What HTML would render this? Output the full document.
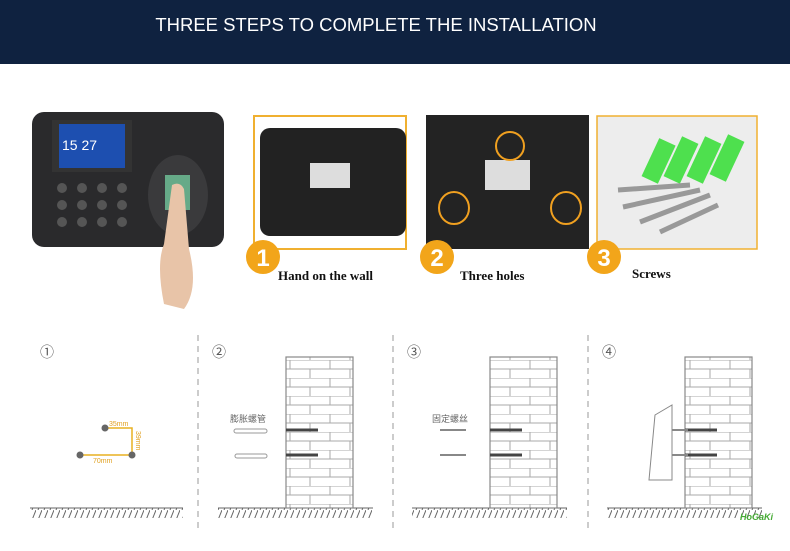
<!DOCTYPE html>
<html><head><meta charset="utf-8"><style>
body{margin:0;width:790px;height:546px;overflow:hidden;background:#fff;font-family:"Liberation Sans","Noto Sans CJK SC",sans-serif}
</style></head><body>
<svg width="790" height="546" xmlns="http://www.w3.org/2000/svg">
<defs>
<pattern id="brick" width="40" height="18" patternUnits="userSpaceOnUse">
<rect width="40" height="18" fill="#fff"/>
<path d="M0 0H40M0 9H40M10 0V9M30 9V18" stroke="#aaa" stroke-width="1"/>
</pattern>
<pattern id="hatch" width="6" height="10" patternUnits="userSpaceOnUse">
<path d="M6 0L2 10" stroke="#666" stroke-width="1"/>
</pattern>
</defs>
<rect width="790" height="64" fill="#0f2240"/>
<text x="376" y="31" fill="#fff" font-size="18.5" text-anchor="middle">THREE STEPS TO COMPLETE THE INSTALLATION</text>
<!-- device -->
<rect x="32" y="112" width="192" height="135" rx="12" fill="#2a2a2c"/>
<rect x="52" y="120" width="80" height="52" fill="#333"/>
<rect x="59" y="124" width="66" height="44" fill="#1d4fb0"/>
<text x="62" y="150" fill="#fff" font-size="14">15 27</text>
<g fill="#555">
<circle cx="62" cy="188" r="5"/><circle cx="82" cy="188" r="5"/><circle cx="102" cy="188" r="5"/><circle cx="122" cy="188" r="5"/>
<circle cx="62" cy="205" r="5"/><circle cx="82" cy="205" r="5"/><circle cx="102" cy="205" r="5"/><circle cx="122" cy="205" r="5"/>
<circle cx="62" cy="222" r="5"/><circle cx="82" cy="222" r="5"/><circle cx="102" cy="222" r="5"/><circle cx="122" cy="222" r="5"/>
</g>
<ellipse cx="178" cy="195" rx="30" ry="40" fill="#3a3a3c"/>
<rect x="165" y="175" width="25" height="35" fill="#6a8"/>
<path d="M172 185 q8 -4 12 4 l5 60 q10 40 -5 60 l-20 -5 q-8 -40 0 -60 z" fill="#e8c4a8"/>
<!-- boxes -->
<rect x="254" y="116" width="152" height="133" fill="#fff" stroke="#f0b030" stroke-width="2"/>
<rect x="260" y="128" width="146" height="108" rx="10" fill="#222"/>
<rect x="310" y="163" width="40" height="25" fill="#ddd"/>
<rect x="426" y="115" width="163" height="134" fill="#232323"/>
<rect x="485" y="160" width="45" height="30" fill="#ddd"/>
<ellipse cx="510" cy="146" rx="14" ry="14" fill="none" stroke="#f0a020" stroke-width="2"/>
<ellipse cx="454" cy="208" rx="15" ry="16" fill="none" stroke="#f0a020" stroke-width="2"/>
<ellipse cx="566" cy="208" rx="15" ry="16" fill="none" stroke="#f0a020" stroke-width="2"/>
<rect x="597" y="116" width="160" height="133" fill="#ededed" stroke="#f0b030" stroke-width="1.5"/>
<g fill="#4ee04e"><rect x="650" y="140" width="18" height="42" transform="rotate(25 659 160)"/><rect x="672" y="138" width="18" height="44" transform="rotate(25 681 160)"/><rect x="695" y="138" width="18" height="44" transform="rotate(25 704 160)"/><rect x="718" y="136" width="18" height="44" transform="rotate(25 727 158)"/></g>
<g stroke="#999" stroke-width="5"><path d="M618 190L690 185M623 207L700 190M640 222L710 195M660 232L718 205"/></g>
<g fill="#f2a51a"><circle cx="263" cy="257" r="17"/><circle cx="437" cy="257" r="17"/><circle cx="604" cy="257" r="17"/></g>
<g fill="#fff" font-size="24" font-weight="bold" text-anchor="middle"><text x="263" y="266">1</text><text x="437" y="266">2</text><text x="604" y="266">3</text></g>
<g font-family="Liberation Serif,serif" font-weight="bold" font-size="13" fill="#111"><text x="278" y="280">Hand on the wall</text><text x="460" y="280">Three holes</text><text x="632" y="278">Screws</text></g>
<!-- dividers -->
<g stroke="#bbb" stroke-width="1.5" stroke-dasharray="6,5"><path d="M198 335V530M393 335V530M588 335V530"/></g>
<g font-size="14" fill="#555"><text x="40" y="357">①</text><text x="212" y="357">②</text><text x="407" y="357">③</text><text x="602" y="357">④</text></g>
<!-- panel1 -->
<path d="M80 455H132V428H105" fill="none" stroke="#e8b020" stroke-width="1.5"/>
<g fill="#666"><circle cx="80" cy="455" r="3.5"/><circle cx="132" cy="455" r="3.5"/><circle cx="105" cy="428" r="3.5"/></g>
<g fill="#e0a020" font-size="7"><text x="109" y="426">35mm</text><text x="93" y="463">70mm</text><text x="136" y="431" transform="rotate(90 136 431)">39mm</text></g>
<!-- grounds -->
<g><rect x="30" y="508" width="153" height="10" fill="url(#hatch)"/><path d="M30 508H183" stroke="#666"/>
<rect x="218" y="508" width="155" height="10" fill="url(#hatch)"/><path d="M218 508H373" stroke="#666"/>
<rect x="412" y="508" width="155" height="10" fill="url(#hatch)"/><path d="M412 508H567" stroke="#666"/>
<rect x="607" y="508" width="155" height="10" fill="url(#hatch)"/><path d="M607 508H762" stroke="#666"/></g>
<!-- walls -->
<g stroke="#888" stroke-width="1.2"><rect x="286" y="357" width="67" height="151" fill="url(#brick)"/><rect x="490" y="357" width="67" height="151" fill="url(#brick)"/><rect x="685" y="357" width="67" height="151" fill="url(#brick)"/></g>
<g stroke="#444" stroke-width="3"><path d="M286 430H318M286 455H318M490 430H522M490 455H522M685 430H717M685 455H717"/></g>
<g font-size="9" fill="#666"><text x="230" y="422">膨胀螺管</text><text x="432" y="422">固定螺丝</text></g>
<g fill="#fff" stroke="#999"><rect x="234" y="429" width="33" height="4" rx="2"/><rect x="235" y="454" width="32" height="4" rx="2"/></g>
<g stroke="#888" stroke-width="2"><path d="M440 430H466M440 455H466M672 430H688M672 455H688"/></g>
<path d="M655 415L672 405V480H649Z" fill="#fff" stroke="#888"/>
<text x="740" y="520" font-size="9" font-style="italic" font-weight="bold" fill="#4a3">HoGaKi</text>
</svg>
</body></html>
